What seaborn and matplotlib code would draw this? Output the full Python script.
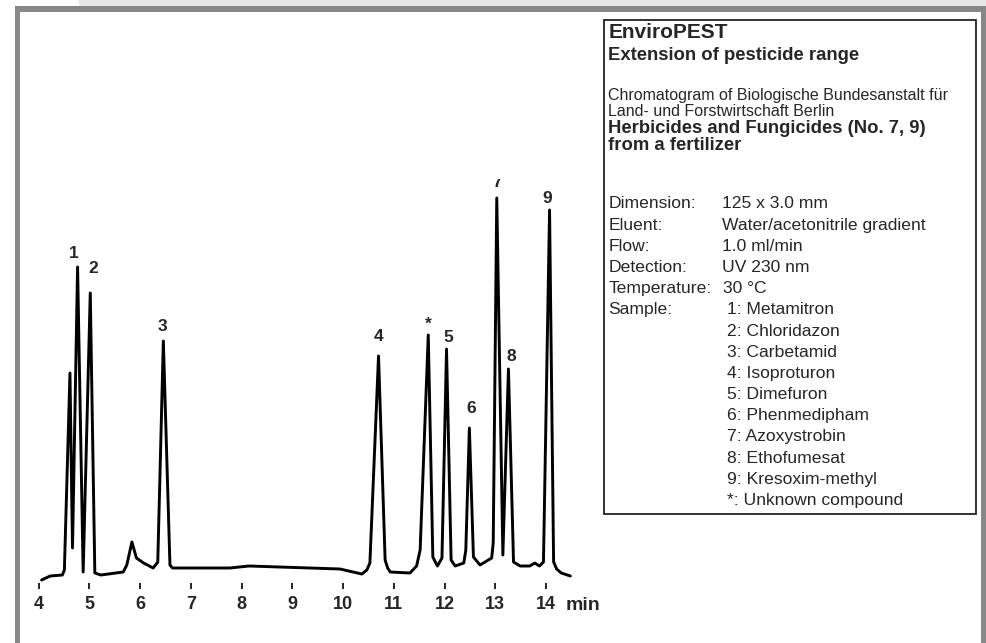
import numpy as np
import pandas as pd
import matplotlib.pyplot as plt
from matplotlib.patches import Rectangle
import seaborn as sns

# ---------------------------------------------------------------
# chromatogram trace: time (min) / signal (a.u.)
# ---------------------------------------------------------------
rt = [4.06, 4.23, 4.47, 4.51, 4.62, 4.67, 4.77, 4.88, 5.02, 5.11,
      5.23, 5.67, 5.74, 5.84, 5.93, 6.07, 6.26, 6.35, 6.46, 6.59,
      6.64, 6.72, 7.77, 8.15, 9.94, 10.37, 10.47, 10.53, 10.70, 10.83,
      10.88, 10.93, 11.32, 11.45, 11.52, 11.68, 11.77, 11.86, 11.95, 12.04,
      12.13, 12.21, 12.38, 12.42, 12.49, 12.57, 12.70, 12.93, 12.96, 13.03,
      13.15, 13.26, 13.36, 13.49, 13.68, 13.78, 13.87, 13.95, 14.07, 14.15,
      14.21, 14.30, 14.48]
signal = [0, 4, 5, 10, 207, 32, 313, 8, 287, 7,
          5, 8, 15, 38, 22, 17, 12, 18, 239, 15,
          12, 12, 12, 14, 11, 6, 10, 17, 224, 20,
          12, 8, 7, 14, 30, 245, 23, 14, 22, 231,
          20, 14, 17, 30, 152, 23, 15, 22, 37, 382,
          25, 211, 18, 14, 14, 17, 14, 18, 370, 18,
          11, 7, 4]

# peak labels and where their text sits (baseline)
peak_names = ['1', '2', '3', '4', '*', '5', '6', '7', '8', '9']
label_rt = [4.70, 5.08, 6.44, 10.71, 11.68, 12.07, 12.52, 13.03, 13.32, 14.03]
label_sig = [322, 307, 249, 239, 251, 238, 167, 393, 219, 377]

time_ticks = [4, 5, 6, 7, 8, 9, 10, 11, 12, 13, 14]

# info box text
title = 'EnviroPEST'
subtitle = 'Extension of pesticide range'
source_lines = ['Chromatogram of Biologische Bundesanstalt für',
                'Land- und Forstwirtschaft Berlin']
sample_title = ['Herbicides and Fungicides (No. 7, 9)', 'from a fertilizer']
cond_keys = ['Dimension:', 'Eluent:', 'Flow:', 'Detection:', 'Temperature:', 'Sample:']
cond_vals = ['125 x 3.0 mm', 'Water/acetonitrile gradient', '1.0 ml/min',
             'UV 230 nm', '30 °C', '']
compounds = ['1: Metamitron', '2: Chloridazon', '3: Carbetamid', '4: Isoproturon',
             '5: Dimefuron', '6: Phenmedipham', '7: Azoxystrobin', '8: Ethofumesat',
             '9: Kresoxim-methyl', '*: Unknown compound']

df = pd.DataFrame({'rt': rt, 'signal': signal})

sns.set_style('white')
plt.rcParams['font.family'] = ['Liberation Sans', 'DejaVu Sans']

W, H = 986, 643
fig = plt.figure(figsize=(W / 100, H / 100), dpi=100)


def fx(px):
    return px / W


def fy(py):
    return 1 - py / H


# frame around the panel
border = '#878787'
fig.add_artist(Rectangle((fx(79), fy(6)), fx(W - 79), 6 / H, transform=fig.transFigure,
                         color='#e6e6e6', lw=0))
fig.add_artist(Rectangle((fx(15), fy(12)), fx(W - 15), 6 / H, transform=fig.transFigure,
                         color=border, lw=0))
fig.add_artist(Rectangle((fx(15), 0), fx(5), fy(12), transform=fig.transFigure,
                         color=border, lw=0))
fig.add_artist(Rectangle((fx(981), 0), fx(5), fy(12), transform=fig.transFigure,
                         color=border, lw=0))

# chromatogram axes: t=4 at px 38.5, 50.75 px per minute, signal 0 at px 580
ax_l, ax_r, ax_t, ax_b = 20, 600, 179, 589
ax = fig.add_axes([fx(ax_l), fy(ax_b), fx(ax_r - ax_l), (ax_b - ax_t) / H])
ax.patch.set_alpha(0)
ax.set_xlim(4 + (ax_l - 38.5) / 50.75, 4 + (ax_r - 38.5) / 50.75)
ax.set_ylim(580 - ax_b, 580 - ax_t)

sns.lineplot(data=df, x='rt', y='signal', ax=ax, color='black', lw=2.1,
             estimator=None, sort=False)

for name, t, s in zip(peak_names, label_rt, label_sig):
    ax.text(t, s, name, ha='center', va='baseline', fontsize=12.5,
            fontweight='bold', clip_on=True)

sns.despine(ax=ax, left=True, bottom=True)
ax.set_xticks(time_ticks)
ax.set_xticklabels([str(t) for t in time_ticks], fontsize=13, fontweight='bold')
ax.tick_params(axis='x', bottom=True, direction='in', length=4.3, width=1.2, pad=5,
               color='black')
ax.set_yticks([])
ax.set_xlabel('')
ax.set_ylabel('')
fig.text(fx(566), fy(610), 'min', fontsize=14, fontweight='bold', va='baseline')

# info box
fig.add_artist(Rectangle((fx(603.5), fy(514)), fx(976 - 603.5), (514 - 19.5) / H,
                         transform=fig.transFigure, fill=False, ec='#222222', lw=1.3))
xl, xv, xs = 608.5, 721.5, 727
fig.text(fx(xl), fy(38), title, fontsize=15, fontweight='bold', va='baseline')
fig.text(fx(xl), fy(60.5), subtitle, fontsize=13.3, fontweight='bold', va='baseline')
fig.text(fx(xl), fy(100), source_lines[0], fontsize=11.5, va='baseline')
fig.text(fx(xl), fy(116.5), source_lines[1], fontsize=11.5, va='baseline')
fig.text(fx(xl), fy(133), sample_title[0], fontsize=13.3, fontweight='bold', va='baseline')
fig.text(fx(xl), fy(150.5), sample_title[1], fontsize=13.3, fontweight='bold', va='baseline')

step = 21.2
for i, (k, v) in enumerate(zip(cond_keys, cond_vals)):
    yb = 208.3 + i * step
    fig.text(fx(xl), fy(yb), k, fontsize=12.6, va='baseline')
    fig.text(fx(xv if k != 'Temperature:' else 723), fy(yb), v, fontsize=12.6, va='baseline')
for j, c in enumerate(compounds):
    yb = 208.3 + (5 + j) * step
    fig.text(fx(xs), fy(yb), c, fontsize=12.6, va='baseline')

fig.savefig('out.png', dpi=100)
